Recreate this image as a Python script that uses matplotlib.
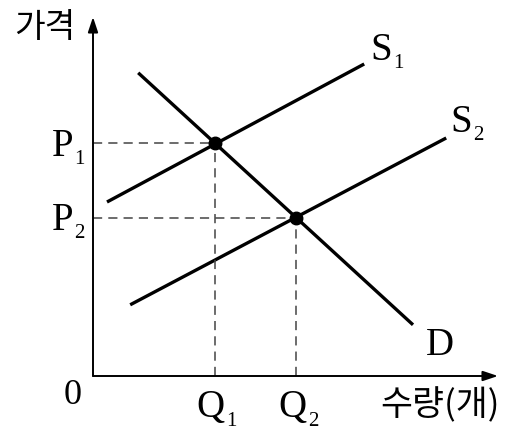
import matplotlib.pyplot as plt
import numpy as np

# curve end points (arbitrary quantity / price units)
s1_x = [0.35, 6.78]
s1_y = [4.35, 7.80]
s2_x = [0.93, 8.83]
s2_y = [1.78, 5.95]
d_x = [1.13, 8.00]
d_y = [7.58, 1.28]

# equilibrium points
eq_q = [3.05, 5.08]
eq_p = [5.83, 3.95]

SERIF = "Liberation Serif"
KOR = ["Noto Sans CJK KR", "DejaVu Sans"]


def sub_label(ax, x, y, main, sub, size=28, subsize=15):
    """ Letter ending at x with a small subscript starting at x (baseline y). """
    ax.text(x, y, main, ha="right", va="baseline", fontsize=size, family=SERIF)
    ax.annotate(sub, (x, y), xytext=(0.5, -6), textcoords="offset points",
                ha="left", va="baseline", fontsize=subsize, family=SERIF,
                annotation_clip=False)


def main():
    fig = plt.figure(figsize=(5.07, 4.30), dpi=100)
    ax = fig.add_axes([93 / 507, 54 / 430, 405 / 507, 359 / 430])
    ax.set_xlim(0, 10.125)
    ax.set_ylim(0, 8.975)
    ax.axis("off")

    # axes with arrows
    arrow = dict(arrowstyle="-|>,head_length=0.9,head_width=0.3", color="black", lw=1.4,
                 shrinkA=0, shrinkB=0)
    ax.annotate("", xy=(10.125, 0), xytext=(0, 0), arrowprops=arrow, annotation_clip=False)
    ax.annotate("", xy=(0, 8.975), xytext=(0, 0), arrowprops=arrow, annotation_clip=False)

    # curves
    for xs, ys in [(s1_x, s1_y), (s2_x, s2_y), (d_x, d_y)]:
        ax.plot(xs, ys, color="black", lw=2.4, solid_capstyle="butt")

    # dashed guides
    for q, p in zip(eq_q, eq_p):
        ax.plot([0, q], [p, p], color="#444444", lw=1.1, ls=(0, (6, 4)))
        ax.plot([q, q], [0, p], color="#444444", lw=1.1, ls=(0, (6, 4)))
    ax.plot(eq_q, eq_p, "o", color="black", ms=9, zorder=5)

    # labels
    sub_label(ax, -0.5, 5.5, "P", "1")
    sub_label(ax, -0.5, 3.65, "P", "2")
    sub_label(ax, 3.3, -1.03, "Q", "1")
    sub_label(ax, 5.35, -1.03, "Q", "2")
    sub_label(ax, 7.48, 7.9, "S", "1")
    sub_label(ax, 9.48, 6.1, "S", "2")
    ax.text(8.68, 0.53, "D", ha="center", va="baseline", fontsize=28, family=SERIF)
    ax.text(-0.5, -0.48, "0", ha="center", va="center", fontsize=26, family=SERIF)
    ax.text(8.68, -0.73, "수량(개)", ha="center", va="center", fontsize=25, family=KOR)
    ax.text(-1.2, 8.7, "가격", ha="center", va="center", fontsize=24, family=KOR)

    fig.savefig("out.png", dpi=100)


if __name__ == "__main__":
    main()
